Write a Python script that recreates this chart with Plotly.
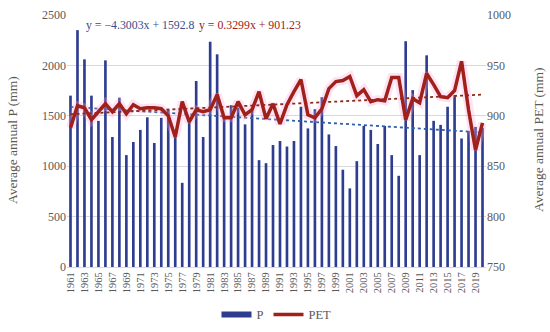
import plotly.graph_objects as go
import numpy as np

years = list(range(1961, 2021))
p_mm = [1700, 2350, 2060, 1700, 1450, 2050, 1290, 1680, 1110, 1240,
        1360, 1485, 1230, 1480, 1560, 1340, 835, 1465, 1845, 1290,
        2235, 2110, 1500, 1605, 1580, 1415, 1580, 1060, 1030, 1210,
        1250, 1195, 1250, 1590, 1375, 1565, 1685, 1315, 1200, 965,
        780, 1050, 1400, 1360, 1220, 1400, 1110, 905, 2240, 1755,
        1110, 2100, 1450, 1410, 1590, 1705, 1275, 1350, 1390, 1380]
pet_mm = [888, 910, 908, 896, 904, 912, 904, 912, 902, 911,
          907, 908, 908, 907, 900, 879, 914, 894, 906, 904,
          906, 921, 898, 898, 914, 901, 906, 924, 897, 912,
          892, 911, 924, 936, 901, 898, 907, 927, 934, 935,
          939, 920, 926, 914, 916, 915, 938, 938, 896, 917,
          913, 942, 931, 919, 918, 925, 954, 906, 866, 893]
tick_years = years[::2]

p_trend = (-4.3003, 1592.8)
pet_trend = (0.3299, 901.23)
p_eq = "y = \u22124.3003x + 1592.8"
pet_eq = "y = 0.3299x + 901.23"
left_title = "Average annual P (mm)"
right_title = "Average annual PET (mm)"

idx = np.arange(1, len(years) + 1)
p_fit = p_trend[0] * idx + p_trend[1]
pet_fit = pet_trend[0] * idx + pet_trend[1]

serif = "Liberation Serif"
grey = "#595959"
bar_col = "#2E3D8F"
line_col = "#A0201A"

fig = go.Figure()
fig.add_trace(go.Bar(x=years, y=p_mm, name="P", showlegend=False,
                     marker=dict(color=bar_col, line=dict(width=0)), yaxis="y"))
fig.add_trace(go.Scatter(x=years, y=p_fit, mode="lines", showlegend=False,
                         line=dict(color="#2E5FA8", width=1.8, dash="dot"), yaxis="y"))
fig.add_trace(go.Scatter(x=years, y=pet_mm, mode="lines", showlegend=False, hoverinfo="skip",
                         line=dict(color="rgba(255,160,215,0.3)", width=9), yaxis="y2"))
fig.add_trace(go.Scatter(x=years, y=pet_fit, mode="lines", showlegend=False,
                         line=dict(color="#8B2A1A", width=1.8, dash="dot"), yaxis="y2"))
fig.add_trace(go.Scatter(x=years, y=pet_mm, mode="lines", name="PET", showlegend=False,
                         line=dict(color=line_col, width=3.5), yaxis="y2"))
# legend entries
fig.add_trace(go.Scatter(x=[None], y=[None], mode="lines", name="P",
                         line=dict(color=bar_col, width=6), yaxis="y"))
fig.add_trace(go.Scatter(x=[None], y=[None], mode="lines", name="PET",
                         line=dict(color=line_col, width=3.5), yaxis="y2"))

fig.update_layout(
    width=550, height=332,
    margin=dict(l=67, r=64, t=15, b=65, autoexpand=False),
    plot_bgcolor="white", paper_bgcolor="white",
    bargap=0.62,
    font=dict(family=serif, color=grey, size=12),
    xaxis=dict(range=[1960.5, 2020.5], tickmode="array", tickvals=tick_years,
               ticktext=[str(y) for y in tick_years], tickangle=-90,
               tickfont=dict(size=10.5, color=grey), showgrid=False,
               showline=True, linecolor="#D9D9D9", ticks="", zeroline=False),
    yaxis=dict(range=[0, 2500], dtick=500, showgrid=True, gridcolor="#D9D9D9",
               zeroline=False, tickfont=dict(size=12, color=grey)),
    yaxis2=dict(range=[750, 1000], dtick=50, overlaying="y", side="right", showgrid=False,
                zeroline=False, tickfont=dict(size=12, color=grey)),
    legend=dict(orientation="h", x=0.5, xanchor="center", y=-0.19, yanchor="middle",
                font=dict(size=12.5, color=grey), bgcolor="rgba(0,0,0,0)"),
    annotations=[
        dict(text=p_eq, xref="paper", yref="paper", x=(84 - 67) / 419, y=(267 - 25) / 252,
             xanchor="left", yanchor="middle", showarrow=False,
             font=dict(family=serif, size=11.8, color="#3B4C8A")),
        dict(text=pet_eq, xref="paper", yref="paper", x=(197 - 67) / 419, y=(267 - 25) / 252,
             xanchor="left", yanchor="middle", showarrow=False,
             font=dict(family=serif, size=11.8, color="#A0201A")),
        dict(text=left_title, xref="paper", yref="paper", x=(12 - 67) / 419, y=(267 - 140) / 252,
             xanchor="center", yanchor="middle", textangle=-90, showarrow=False,
             font=dict(family=serif, size=13.5, color=grey)),
        dict(text=right_title, xref="paper", yref="paper", x=(538 - 67) / 419, y=(267 - 140) / 252,
             xanchor="center", yanchor="middle", textangle=-90, showarrow=False,
             font=dict(family=serif, size=13.5, color=grey)),
    ],
)

fig.write_html("out.html", config={"displayModeBar": False},
               post_script="document.body.style.margin='0';")
